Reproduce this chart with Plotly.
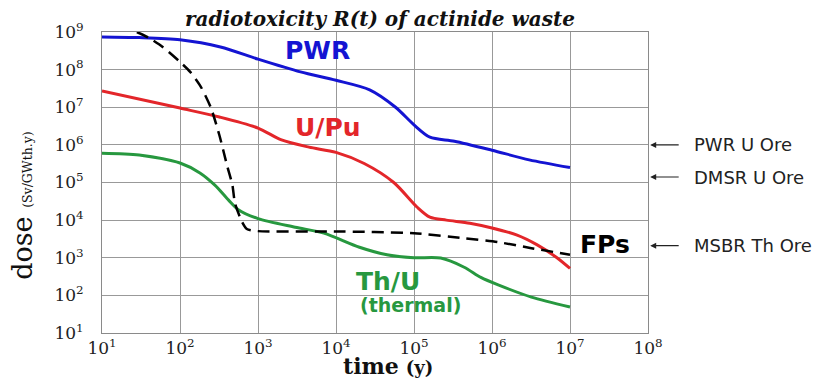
import math
import plotly.graph_objects as go

# ---- data ----
pwr_t = [10, 30, 100, 330, 1000, 3500, 1e4, 2.7e4, 5.8e4, 1e5, 1.6e5, 3.3e5, 1e6, 3e6, 1e7]
pwr_d = [7.4e8, 7.1e8, 6.2e8, 4.0e8, 1.9e8, 8.7e7, 5.2e7, 2.9e7, 1.0e7, 3.4e6, 1.6e6, 1.25e6, 7.2e5, 4.0e5, 2.5e5]

upu_t = [10, 100, 320, 1000, 2000, 4500, 1e4, 2.3e4, 5.5e4, 1.1e5, 1.6e5, 2.6e5, 5.2e5, 1e6, 2.1e6, 3.8e6, 6.8e6, 1e7]
upu_d = [2.7e7, 9.5e6, 5.5e6, 2.8e6, 1.35e6, 8.7e5, 6.3e5, 3.2e5, 1.0e5, 2.2e4, 1.2e4, 1.0e4, 8.3e3, 6.2e3, 4.0e3, 2.2e3, 1.0e3, 5.2e2]

thu_t = [10, 30, 100, 180, 280, 420, 560, 1000, 3000, 7000, 2e4, 4.5e4, 1e5, 2.2e5, 4.4e5, 7.2e5, 1.2e6, 3.2e6, 1e7]
thu_d = [6.0e5, 5.4e5, 3.3e5, 1.8e5, 8.5e4, 3.4e4, 1.9e4, 1.1e4, 6.5e3, 4.5e3, 1.9e3, 1.2e3, 1.0e3, 9.8e2, 5.6e2, 3.0e2, 1.9e2, 9.0e1, 4.9e1]

fp_t = [28, 40, 60, 100, 135, 185, 250, 320, 400, 470, 507, 623, 720, 1000, 1e4, 1e5, 4.4e5, 1.2e6, 3.2e6, 1e7]
fp_d = [1.0e9, 7.0e8, 4.0e8, 1.6e8, 8.7e7, 3.5e7, 9.5e6, 1.8e6, 2.9e5, 8.5e4, 2.8e4, 9.0e3, 5.8e3, 5.1e3, 5.0e3, 4.5e3, 3.3e3, 2.6e3, 1.8e3, 1.2e3]

ore_labels = ["PWR U Ore", "DMSR U Ore", "MSBR Th Ore"]
ore_levels = [1.0e6, 1.4e5, 2.1e3]

x_tickvals = [1e1, 1e2, 1e3, 1e4, 1e5, 1e6, 1e7, 1e8]
x_ticktext = ["10<sup>%d</sup>" % k for k in range(1, 9)]
y_tickvals = [1e1, 1e2, 1e3, 1e4, 1e5, 1e6, 1e7, 1e8, 1e9]
y_ticktext = ["10<sup>%d</sup>" % k for k in range(1, 10)]

BLUE = "#1414d2"
RED = "#e3262a"
GREEN = "#27983f"

fig = go.Figure()
fig.add_trace(go.Scatter(x=pwr_t, y=pwr_d, mode="lines",
                         line=dict(color=BLUE, width=3, shape="spline", smoothing=0.8)))
fig.add_trace(go.Scatter(x=upu_t, y=upu_d, mode="lines",
                         line=dict(color=RED, width=3, shape="spline", smoothing=0.8)))
fig.add_trace(go.Scatter(x=thu_t, y=thu_d, mode="lines",
                         line=dict(color=GREEN, width=3, shape="spline", smoothing=0.8)))
fig.add_trace(go.Scatter(x=fp_t, y=fp_d, mode="lines",
                         line=dict(color="black", width=2.5, dash="12px,7px", shape="spline", smoothing=0.6)))

ann = []
# in-plot labels (log10 positions on log axes)
ann.append(dict(x=3.76, y=8.52, xref="x", yref="y", text="<b>PWR</b>", showarrow=False,
                font=dict(family="DejaVu Sans", size=25, color=BLUE)))
ann.append(dict(x=3.9, y=6.45, xref="x", yref="y", text="<b>U/Pu</b>", showarrow=False,
                font=dict(family="DejaVu Sans", size=25, color=RED)))
ann.append(dict(x=4.67, y=2.38, xref="x", yref="y", text="<b>Th/U</b>", showarrow=False,
                font=dict(family="DejaVu Sans", size=25, color=GREEN)))
ann.append(dict(x=4.96, y=1.74, xref="x", yref="y", text="<b>(thermal)</b>", showarrow=False,
                font=dict(family="DejaVu Sans", size=19, color=GREEN)))
ann.append(dict(x=7.45, y=3.36, xref="x", yref="y", text="<b>FPs</b>", showarrow=False,
                font=dict(family="DejaVu Sans", size=25, color="black")))

for lab, lev in zip(ore_labels, ore_levels):
    ly = math.log10(lev)
    ann.append(dict(x=1.004, y=ly, xref="paper", yref="y", text="", showarrow=True,
                    ax=30, ay=0, arrowhead=2, arrowsize=1, arrowwidth=1.2, arrowcolor="#222"))
    ann.append(dict(x=1.08, y=ly, xref="paper", yref="y", text=lab, showarrow=False,
                    xanchor="left", yanchor="middle",
                    font=dict(family="DejaVu Sans", size=18, color="#222")))

# title
ann.append(dict(x=0.509, y=1.043, xref="paper", yref="paper", xanchor="center",
                text="<b><i>radiotoxicity R(t) of actinide waste</i></b>", showarrow=False,
                yanchor="middle", font=dict(family="DejaVu Serif", size=20, color="#111")))
# axis titles
ann.append(dict(x=-0.147, y=0.425, xref="paper", yref="paper", textangle=-90,
                xanchor="center", yanchor="middle",
                text="dose <span style='font-size:12.5px'>(Sv/GWth.y)</span>", showarrow=False,
                font=dict(family="DejaVu Serif", size=27, color="#111")))
ann.append(dict(x=0.524, y=-0.108, xref="paper", yref="paper", xanchor="center",
                text="<b>time</b> <span style='font-size:18px'><b>(y)</b></span>", showarrow=False,
                yanchor="middle", font=dict(family="DejaVu Serif", size=22, color="#111")))

axis_common = dict(type="log", showgrid=True, gridcolor="#999999", gridwidth=1,
                   showline=True, linecolor="#8a8a8a", linewidth=1, mirror=True,
                   ticks="", zeroline=False,
                   tickfont=dict(family="DejaVu Serif", size=17, color="#222"))

# the page body has an 8px margin, so the figure is drawn 8px in from the window edge
fig.update_layout(
    width=827, height=372,
    margin=dict(l=94, r=187, t=24, b=47),
    paper_bgcolor="white", plot_bgcolor="white",
    showlegend=False,
    annotations=ann,
    xaxis=dict(range=[1, 8], tickvals=x_tickvals, ticktext=x_ticktext, **axis_common),
    yaxis=dict(range=[1, 9], tickvals=y_tickvals, ticktext=y_ticktext,
               ticklabelstandoff=14, **axis_common),
)

fig.write_html("out.html")
